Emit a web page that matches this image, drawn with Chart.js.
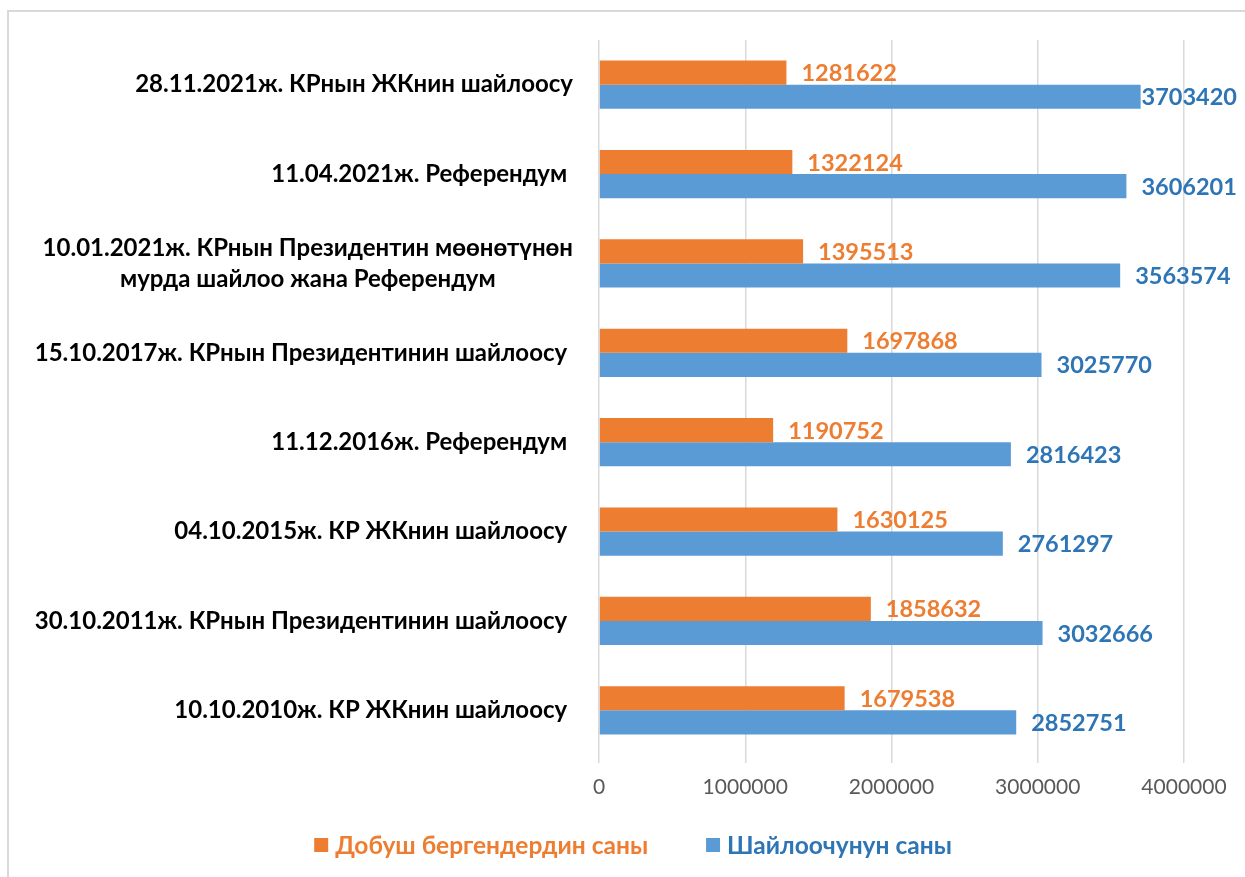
<!DOCTYPE html>
<html>
<head>
<meta charset="utf-8">
<script src="https://cdn.jsdelivr.net/npm/chart.js@4.4.0/dist/chart.umd.min.js"></script>
<style>
  html, body { margin: 0; padding: 0; background: #fff; }
  #wrap { position: relative; width: 1245px; height: 877px; overflow: hidden; }
  #frame { position: absolute; left: 7px; top: 10px; width: 1260px; height: 900px; border: 2px solid #d9d9d9; box-sizing: border-box; }
  #chart { position: absolute; left: 0; top: 0; }
</style>
</head>
<body>
<div id="wrap">
  <div id="frame"></div>
  <canvas id="chart" width="1245" height="877"></canvas>
</div>
<script>
const categories = [
  '28.11.2021ж. КРнын ЖКнин шайлоосу',
  '11.04.2021ж. Референдум ',
  ['10.01.2021ж. КРнын Президентин мөөнөтүнөн', 'мурда шайлоо жана Референдум'],
  '15.10.2017ж. КРнын Президентинин шайлоосу ',
  '11.12.2016ж. Референдум ',
  '04.10.2015ж. КР ЖКнин шайлоосу ',
  '30.10.2011ж. КРнын Президентинин шайлоосу ',
  '10.10.2010ж. КР ЖКнин шайлоосу '
];
const voted = [1281622, 1322124, 1395513, 1697868, 1190752, 1630125, 1858632, 1679538];
const voters = [3703420, 3606201, 3563574, 3025770, 2816423, 2761297, 3032666, 2852751];
const xTicks = [0, 1000000, 2000000, 3000000, 4000000];
const seriesNames = ['Добуш бергендердин саны', 'Шайлоочунун саны'];

const ORANGE = '#ED7D31';
const BLUE = '#5B9BD5';
const BLUE_TEXT = '#2E75B6';

// value labels at the end of each bar
const barLabels = {
  id: 'barLabels',
  afterDatasetsDraw(chart) {
    const ctx = chart.ctx;
    ctx.save();
    ctx.font = 'bold 23.5px Lato';
    ctx.textBaseline = 'middle';
    ctx.textAlign = 'left';
    chart.data.datasets.forEach((ds, i) => {
      chart.getDatasetMeta(i).data.forEach((bar, j) => {
        const txt = String(ds.data[j]);
        const w = ctx.measureText(txt).width;
        let x = bar.x + 15;
        if (x + w > chart.width - 8) x = chart.width - 8 - w;
        ctx.fillStyle = ds.labelColor;
        ctx.fillText(txt, x, bar.y + 1);
      });
    });
    ctx.restore();
  }
};

// category labels, multi-line ones centred on their longest line like Excel
const catLabels = {
  id: 'catLabels',
  afterDraw(chart) {
    const ctx = chart.ctx;
    const y = chart.scales.y;
    ctx.save();
    ctx.font = 'bold 24px Lato';
    ctx.fillStyle = '#000';
    ctx.textBaseline = 'middle';
    ctx.textAlign = 'center';
    const right = chart.chartArea.left - 26;
    categories.forEach((lab, i) => {
      const lines = Array.isArray(lab) ? lab : [lab];
      const maxW = Math.max(...lines.map(l => ctx.measureText(l).width));
      const cx = right - maxW / 2;
      const lh = 31;
      const y0 = y.getPixelForTick(i) - (lines.length - 1) * lh / 2;
      lines.forEach((l, k) => ctx.fillText(l, cx, y0 + k * lh));
    });
    ctx.restore();
  }
};

// legend under the axis
const legendRow = {
  id: 'legendRow',
  afterDraw(chart) {
    const ctx = chart.ctx;
    ctx.save();
    ctx.font = 'bold 24.5px Lato';
    ctx.textBaseline = 'middle';
    const box = 14, gap = 7, between = 58;
    const colors = [ORANGE, BLUE];
    const textColors = [ORANGE, BLUE_TEXT];
    const widths = seriesNames.map(n => ctx.measureText(n).width);
    const total = widths.reduce((a, w) => a + box + gap + w, 0) + between;
    let x = 633 - total / 2;
    const yc = 845;
    seriesNames.forEach((n, i) => {
      ctx.fillStyle = colors[i];
      ctx.fillRect(x, yc - box / 2, box, box);
      x += box + gap;
      ctx.fillStyle = textColors[i];
      ctx.fillText(n, x, yc + 1);
      x += widths[i] + between;
    });
    ctx.restore();
  }
};

new Chart(document.getElementById('chart'), {
  type: 'bar',
  data: {
    labels: categories,
    datasets: [
      { label: seriesNames[0], data: voted, backgroundColor: ORANGE, labelColor: ORANGE },
      { label: seriesNames[1], data: voters, backgroundColor: BLUE, labelColor: BLUE_TEXT }
    ]
  },
  options: {
    indexAxis: 'y',
    responsive: false,
    animation: false,
    layout: { padding: { top: 40, right: 61, left: 0, bottom: 80 } },
    datasets: { bar: { categoryPercentage: 0.54, barPercentage: 1 } },
    plugins: {
      legend: { display: false },
      tooltip: { enabled: false }
    },
    scales: {
      x: {
        min: 0,
        max: 4000000,
        afterBuildTicks: axis => { axis.ticks = xTicks.map(v => ({ value: v })); },
        afterFit: axis => { axis.height = 42; },
        ticks: {
          color: '#595959',
          font: { family: 'Lato', size: 21 },
          padding: 12,
          maxRotation: 0,
          callback: v => String(v)
        },
        grid: { color: '#d9d9d9', lineWidth: 1.5, tickLength: 8, tickColor: '#d9d9d9' },
        border: { display: false }
      },
      y: {
        afterFit: axis => { axis.width = 599; },
        ticks: { display: false },
        grid: { display: false },
        border: { display: false }
      }
    }
  },
  plugins: [barLabels, catLabels, legendRow]
});
</script>
</body>
</html>
